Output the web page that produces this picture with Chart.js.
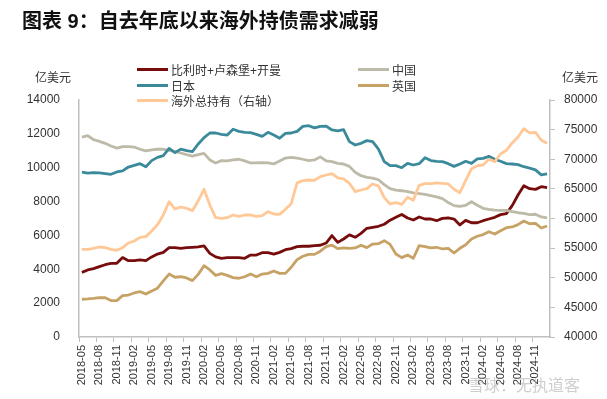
<!DOCTYPE html>
<html>
<head>
<meta charset="utf-8">
<script src="https://cdn.jsdelivr.net/npm/chart.js@4.4.1/dist/chart.umd.min.js"></script>
<style>
  body { margin: 0; background: #fff; }
  #wrap { position: relative; width: 607px; height: 399px; font-family: Arial, "Liberation Sans", "Noto Sans CJK SC", sans-serif; color: #333; }
  #title { position: absolute; left: 22px; top: 5px; font-size: 20px; font-weight: bold; color: #111; white-space: nowrap; }
  .unit { position: absolute; top: 68px; font-size: 12px; }
  .leg { position: absolute; font-size: 12px; white-space: nowrap; display: flex; align-items: center; }
  .leg span.line { display: inline-block; width: 31px; height: 3px; margin-right: 3px; }
  #wm { position: absolute; left: 468px; top: 372px; font-size: 16px; color: rgba(160,160,160,0.5); white-space: nowrap; }
</style>
</head>
<body>
<div id="wrap">
  <canvas id="myChart" width="607" height="399"></canvas>
  <div id="title">图表 9：自去年底以来海外持债需求减弱</div>
  <div class="unit" style="left:35px">亿美元</div>
  <div class="unit" style="left:562px">亿美元</div>
  <div id="legend"></div>
  <div id="wm">雪球：无执道客</div>
</div>
<script>
// months 2018-05 .. 2025-01
const months = [];
for (let y = 2018, m = 5; y < 2025 || (y === 2025 && m <= 1); m++) {
  if (m > 12) { m = 1; y++; if (y === 2025 && m > 1) break; }
  months.push(y + "-" + String(m).padStart(2, "0"));
}

const belLuxCayman = [
  3820, 3960, 4040, 4160, 4270, 4350, 4350, 4690, 4510, 4510,
  4550, 4510, 4730, 4900, 5000, 5280, 5280, 5240, 5280, 5300,
  5320, 5380, 4940, 4730, 4650, 4690, 4690, 4690, 4650, 4840,
  4840, 4980, 4980, 4900, 5000, 5160, 5220, 5340, 5360, 5360,
  5400, 5420, 5550, 5990, 5590, 5790, 6030, 5890, 6120, 6420,
  6480, 6540, 6660, 6900, 7070, 7240, 7030, 6910, 7090, 6970,
  6970, 6870, 7010, 7030, 6970, 6620, 6890, 6750, 6750, 6870,
  6970, 7070, 7230, 7290, 7760, 8390, 8940, 8760, 8720, 8880,
  8820
];
const china = [
  11810, 11890, 11660, 11560, 11440, 11280, 11160, 11240, 11240, 11220,
  11090, 10990, 11050, 11090, 11090, 11030, 10950, 10870, 10770, 10690,
  10770, 10850, 10460, 10280, 10420, 10400, 10460, 10500, 10400, 10280,
  10280, 10300, 10280, 10220, 10400, 10570, 10610, 10570, 10500, 10420,
  10460, 10640, 10400, 10360, 10260, 10220, 10080, 9730, 9530, 9430,
  9390, 9290, 9000, 8760, 8680, 8640, 8590, 8510, 8470, 8430,
  8350, 8280, 8170, 7940, 7760, 7720, 7780, 7990, 7780, 7600,
  7540, 7500, 7480, 7480, 7400, 7340, 7300, 7230, 7250, 7090,
  7030
];
const japan = [
  9740, 9680, 9710, 9690, 9650, 9610, 9750, 9810, 10040, 10140,
  10240, 10060, 10420, 10610, 10710, 11140, 10890, 11100, 11010, 10950,
  11400, 11780, 12050, 12050, 11970, 11930, 12270, 12150, 12090, 12070,
  11970, 11850, 12090, 11930, 11740, 12030, 12050, 12150, 12440, 12480,
  12350, 12440, 12460, 12230, 12170, 12250, 11540, 11340, 11440, 11600,
  11540, 11100, 10360, 10120, 10120, 10000, 10260, 10160, 10240, 10590,
  10420, 10380, 10360, 10240, 10080, 10220, 10380, 10260, 10520, 10550,
  10670, 10500, 10380, 10240, 10220, 10180, 10060, 9980, 9870, 9580,
  9630
];
const uk = [
  2230, 2250, 2280, 2320, 2320, 2150, 2150, 2440, 2480, 2600,
  2680, 2540, 2720, 2880, 3310, 3720, 3530, 3560, 3490, 3330,
  3700, 4210, 3960, 3640, 3740, 3640, 3510, 3470, 3560, 3720,
  3560, 3720, 3760, 3900, 3760, 3760, 4120, 4570, 4770, 4880,
  4880, 5070, 5340, 5430, 5220, 5260, 5240, 5260, 5420, 5280,
  5490, 5510, 5690, 5470, 4900, 4690, 4840, 4650, 5400, 5340,
  5260, 5300, 5200, 5240, 4960, 5240, 5450, 5790, 5950, 6050,
  6220, 6080, 6280, 6460, 6500, 6640, 6850, 6690, 6710, 6440,
  6560
];
const totalForeign = [
  54800, 54800, 54970, 55190, 55080, 54800, 54630, 55080, 55870, 56200,
  56820, 56940, 57890, 58960, 60590, 62840, 61600, 61940, 61720, 61320,
  63000, 64930, 62280, 60140, 60030, 60140, 60590, 60370, 60590, 60590,
  60370, 60480, 61150, 60760, 60700, 61550, 62500, 66000, 66390, 66500,
  66450, 67060, 67340, 67570, 66840, 66670, 65940, 64530, 64810, 65040,
  65830, 65490, 63520, 62450, 62680, 62390, 63580, 63070, 65600, 65880,
  65880, 66020, 65940, 65830, 64930, 64360, 66450, 68410, 68920, 69030,
  69990, 69600, 70890, 71510, 72750, 73760, 75170, 74440, 74550, 73200,
  72690
];

const axisColor = "#bfbfbf";
const tickFont = { family: "Arial, 'Liberation Sans', sans-serif", size: 12 };
const plainNumber = function (v) { return String(v); };

function line(label, data, color, axis, order) {
  return {
    label: label,
    data: data,
    yAxisID: axis,
    borderColor: color,
    backgroundColor: color,
    borderWidth: 2.8,
    pointRadius: 0,
    tension: 0,
    borderJoinStyle: "round",
    order: order,
  };
}

const ctx = document.getElementById("myChart").getContext("2d");
const myChart = new Chart(ctx, {
  type: "line",
  data: {
    labels: months,
    datasets: [
      line("比利时+卢森堡+开曼", belLuxCayman, "#760c0c", "y", 5),
      line("中国", china, "#bdbaa8", "y", 4),
      line("日本", japan, "#3b8a9c", "y", 3),
      line("英国", uk, "#c6a265", "y", 2),
      line("海外总持有（右轴）", totalForeign, "#ffc896", "y1", 1),
    ],
  },
  options: {
    responsive: false,
    animation: false,
    devicePixelRatio: 1,
    layout: { padding: { top: 100, left: 0, right: 0, bottom: 0 } },
    plugins: {
      legend: { display: false },
      tooltip: { enabled: false },
    },
    scales: {
      x: {
        offset: true,
        afterFit: function (s) { s.height = 62; },
        grid: {
          offset: true,
          drawOnChartArea: false,
          drawTicks: true,
          tickLength: 5,
          color: function (c) { return c.index % 3 === 0 ? axisColor : "rgba(0,0,0,0)"; },
        },
        border: { display: true, color: axisColor, width: 1.5 },
        ticks: {
          autoSkip: false,
          maxRotation: 90,
          minRotation: 90,
          padding: 3,
          color: "#333",
          font: { family: "Arial, 'Liberation Sans', sans-serif", size: 11 },
          callback: function (value, index) {
            return index % 3 === 0 ? months[index] : "";
          },
        },
      },
      y: {
        position: "left",
        min: 0,
        max: 14000,
        afterFit: function (s) { s.width = 79; },
        grid: { display: false },
        border: { display: true, color: axisColor, width: 1.5 },
        ticks: { stepSize: 2000, padding: 11, color: "#333", font: tickFont, callback: plainNumber },
      },
      y1: {
        position: "right",
        min: 40000,
        max: 80000,
        afterFit: function (s) { s.width = 57; },
        grid: { drawOnChartArea: false, drawTicks: true, tickLength: 5, color: axisColor },
        border: { display: true, color: axisColor, width: 1.5 },
        ticks: { stepSize: 5000, padding: 9, color: "#333", font: tickFont, callback: plainNumber },
      },
    },
  },
});

// legend laid out in two columns like the source, in dataset order
const legendPos = [
  { left: 137, top: 61 },
  { left: 358, top: 61 },
  { left: 137, top: 77 },
  { left: 358, top: 77 },
  { left: 137, top: 92 },
];
const items = Chart.defaults.plugins.legend.labels.generateLabels(myChart)
  .sort(function (a, b) { return a.datasetIndex - b.datasetIndex; });
const legendEl = document.getElementById("legend");
items.forEach(function (it, i) {
  const d = document.createElement("div");
  d.className = "leg";
  d.style.left = legendPos[i].left + "px";
  d.style.top = legendPos[i].top + "px";
  d.innerHTML = '<span class="line" style="background:' + it.strokeStyle + '"></span>' + it.text;
  legendEl.appendChild(d);
});
</script>
</body>
</html>
